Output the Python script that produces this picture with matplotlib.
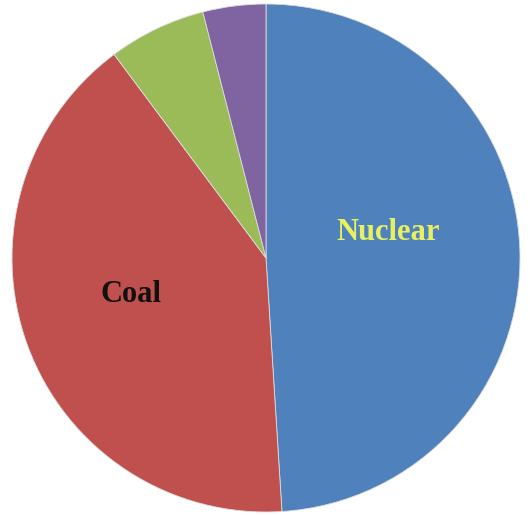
import matplotlib
matplotlib.use("Agg")
import matplotlib.pyplot as plt

categories = ["Nuclear", "Coal", "Other", "Other2"]
values = [49.0, 40.8, 6.2, 4.0]
colors = ["#4F81BD", "#C0504D", "#9BBB59", "#8064A2"]

fig = plt.figure(figsize=(5.30, 5.15), dpi=100)
W, H = 530, 515
cx, cy, r = 266, 515 - 258, 254
ax = fig.add_axes([(cx - r) / W, (cy - r) / H, 2 * r / W, 2 * r / H])
ax.pie(values, colors=colors, startangle=90, counterclock=False, radius=1,
       wedgeprops=dict(edgecolor="#dddddd", linewidth=0.6))
ax.set_xlim(-1, 1)
ax.set_ylim(-1, 1)
ax.set_aspect("equal")
ax.axis("off")

ax.text(122 / r, 26 / r, categories[0], color="#E6F060", fontsize=22,
        fontweight="bold", family="Liberation Serif", ha="center", va="center")
ax.text(-135 / r, -37 / r, categories[1], color="#111111", fontsize=22,
        fontweight="bold", family="Liberation Serif", ha="center", va="center")

fig.savefig("out.png", dpi=100, facecolor="white")
